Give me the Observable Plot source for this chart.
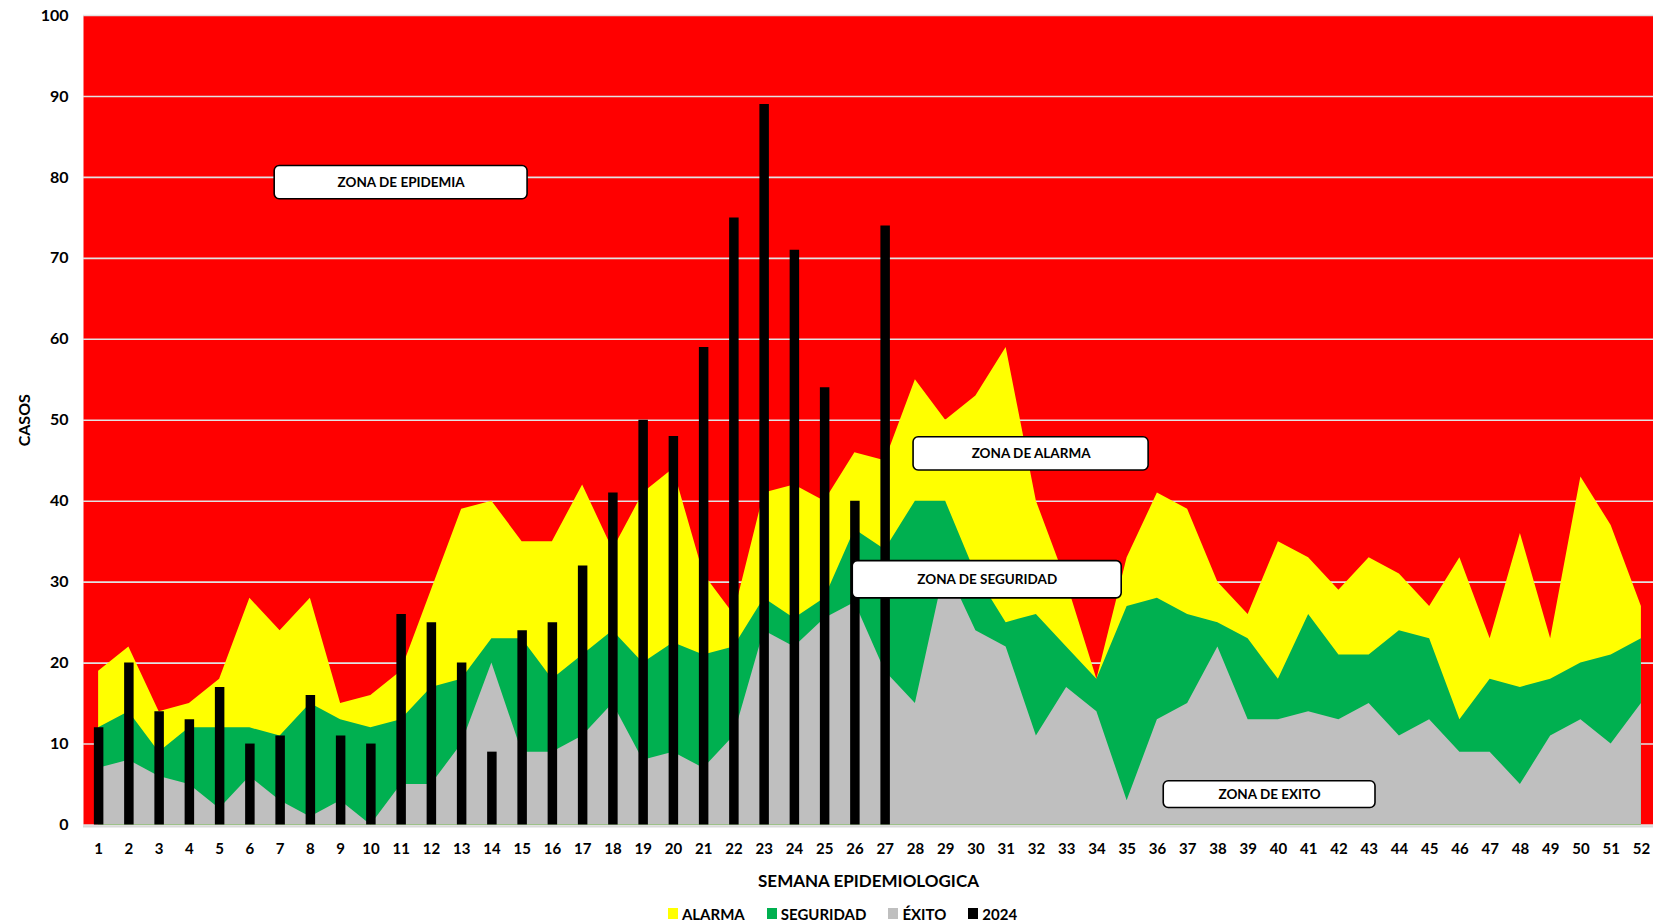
<!DOCTYPE html>
<html>
<head>
<meta charset="utf-8">
<script src="https://cdn.jsdelivr.net/npm/d3@7"></script>
<script src="https://cdn.jsdelivr.net/npm/@observablehq/plot@0.6"></script>
<style>
  body { margin: 0; background: #fff; font-family: Lato, "Open Sans", sans-serif; }
  #chart svg { display: block; }
  .legend { width: 1653px; box-sizing: border-box; padding-left: 32px; height: 25px; margin-top: 3px;
    display: flex; justify-content: center; align-items: center;
    font-weight: bold; font-size: 15px; color: #000; font-family: Lato, sans-serif; }
  .legend .item { display: flex; align-items: center; margin: 0 11px; }
  .legend .sw { width: 10px; height: 11px; margin-right: 4px; display: inline-block; }
</style>
</head>
<body>
<div id="chart"></div>
<div class="legend" id="legend"></div>
<script>
// ---- data ----
const semanas = d3.range(1, 53);
// upper limit of each zone of the endemic channel
const alarma = [19,22,14,15,18,28,24,28,15,16,19,29,39,40,35,35,42,34,41,44,31,26,41,42,40,46,45,55,50,53,59,40,30,18,33,41,39,30,26,35,33,29,33,31,27,33,23,36,23,43,37,27];
const seguridad = [12,14,9,12,12,12,11,15,13,12,13,17,18,23,23,18,21,24,20,22.5,21,22,28,25.5,28,36.5,34,40,40,31,25,26,22,18,27,28,26,25,23,18,26,21,21,24,23,13,18,17,18,20,21,23];
const exito = [7,8,6,5,2,6,3,1,3,0,5,5,10,20,9,9,11,15,8,9,7,11,24,22,25.5,27.5,19,15,32,24,22,11,17,14,3,13,15,22,13,13,14,13,15,11,13,9,9,5,11,13,10,15];
// 2024 cases (weeks 1-27)
const casos2024 = [12,20,14,13,17,10,11,16,11,10,26,25,20,9,24,25,32,41,50,48,59,75,89,71,54,40,74];
const yTicks = d3.range(0, 101, 10);
const zonaLabels = ["ZONA DE EPIDEMIA", "ZONA DE ALARMA", "ZONA DE SEGURIDAD", "ZONA DE EXITO"];
const zonaX1 = [6.82, 27.94, 25.93, 36.21];
const zonaX2 = [15.18, 35.71, 34.82, 43.21];
const zonaY1 = [77.3, 43.8, 28.0, 2.1];
const zonaY2 = [81.4, 47.9, 32.6, 5.4];
const serieNombres = ["ALARMA", "SEGURIDAD", "ÉXITO", "2024"];
const serieColores = ["#FFFF00", "#00B050", "#BFBFBF", "#000000"];

// ---- tables ----
const canal = semanas.map((s, i) => ({semana: s, alarma: alarma[i], seguridad: seguridad[i], exito: exito[i]}));
const barras = casos2024.map((v, i) => ({semana: i + 1, casos: v}));
const zonas = zonaLabels.map((l, i) => ({label: l, x1: zonaX1[i], x2: zonaX2[i], y1: zonaY1[i], y2: zonaY2[i],
  xm: (zonaX1[i] + zonaX2[i]) / 2, ym: (zonaY1[i] + zonaY2[i]) / 2}));

const plot = Plot.plot({
  width: 1653,
  height: 898,
  marginLeft: 83,
  marginRight: 0,
  marginTop: 15,
  marginBottom: 73.5,
  style: {fontFamily: "Lato, sans-serif", fontWeight: "bold", fontSize: "15px", color: "#000", background: "transparent"},
  x: {type: "linear", domain: [0.5, 52.4], axis: null},
  y: {domain: [0, 100], axis: null},
  marks: [
    Plot.frame({fill: "#FF0000", stroke: "none"}),
    Plot.gridY(yTicks, {stroke: "#e2e2e2", strokeOpacity: 1, strokeWidth: 1.6}),
    Plot.areaY(canal, {x: "semana", y: "alarma", fill: serieColores[0]}),
    Plot.areaY(canal, {x: "semana", y: "seguridad", fill: serieColores[1]}),
    Plot.areaY(canal, {x: "semana", y: "exito", fill: serieColores[2]}),
    Plot.ruleX(barras, {x: "semana", y1: 0, y2: "casos", stroke: "#000", strokeWidth: 9.5}),
    Plot.ruleY([0], {stroke: "#d9d9d9", strokeWidth: 2, dy: 1.5}),
    Plot.rect(zonas, {x1: "x1", x2: "x2", y1: "y1", y2: "y2", fill: "#fff", stroke: "#000", strokeWidth: 1.6, rx: 5}),
    Plot.text(zonas, {x: "xm", y: "ym", text: "label", fontSize: 13.5, fontWeight: "bold", fill: "#000"}),
    Plot.axisX(semanas, {tickSize: 0, tickPadding: 18, tickFormat: "d", fontSize: 15, label: null}),
    Plot.axisY(yTicks, {tickSize: 0, tickPadding: 15, fontSize: 16, label: null}),
    Plot.text(["SEMANA EPIDEMIOLOGICA"], {frameAnchor: "bottom", lineAnchor: "middle", dy: 57, fontSize: 17, fontWeight: "bold", fill: "#000"}),
    Plot.text(["CASOS"], {frameAnchor: "left", textAnchor: "middle", rotate: -90, dx: -58.5, fontSize: 16, fontWeight: "bold", fill: "#000"})
  ]
});
document.getElementById("chart").append(plot);

const legend = document.getElementById("legend");
serieNombres.forEach((n, i) => {
  const item = document.createElement("span");
  item.className = "item";
  const sw = document.createElement("span");
  sw.className = "sw";
  sw.style.background = serieColores[i];
  item.append(sw, document.createTextNode(n));
  legend.append(item);
});
</script>
</body>
</html>
